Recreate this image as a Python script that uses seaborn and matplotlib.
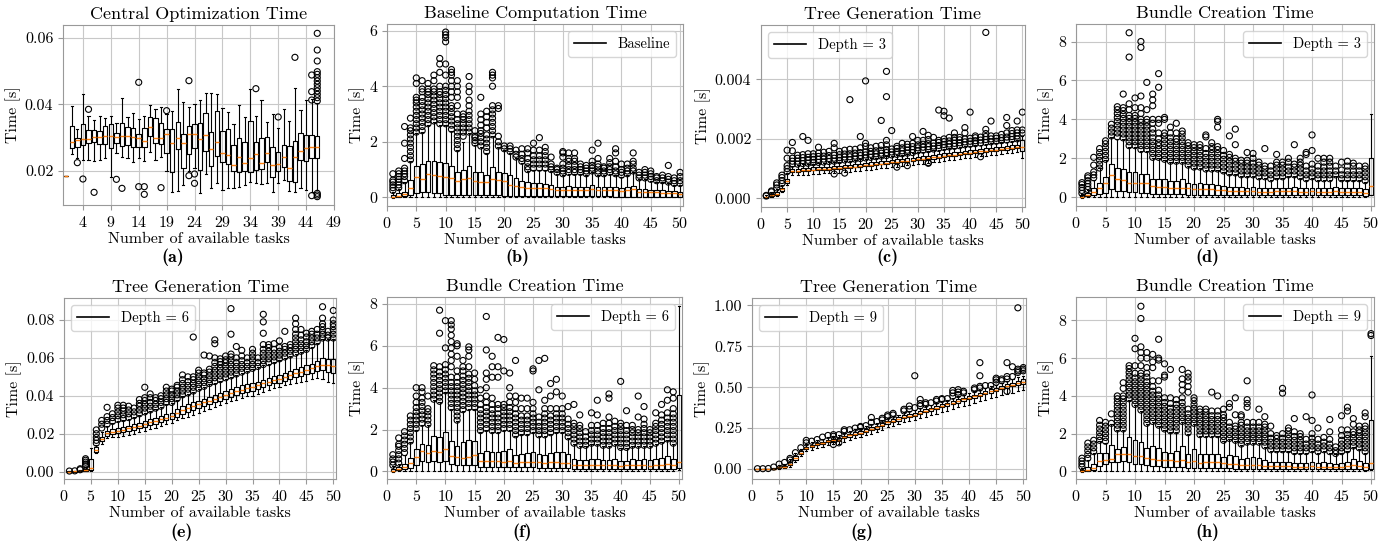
import matplotlib
matplotlib.use("Agg")
import matplotlib.pyplot as plt
from matplotlib.lines import Line2D
from matplotlib.ticker import FormatStrFormatter
import numpy as np
import pandas as pd
import seaborn as sns

plt.rcParams.update({
    "font.family": "serif",
    "font.serif": ["cmr10"],
    "mathtext.fontset": "cm",
    "axes.unicode_minus": False,
    "axes.formatter.use_mathtext": True,
})

# ---------------------------------------------------------------------------
# Box summaries (one value per number of tasks).
# lo / hi are the whisker ends, fliers are the drawn outlier circles.
# ---------------------------------------------------------------------------

# (a) central optimization time [s], tasks 1..46
a_q1 = [0.0186, 0.0268, 0.0271, 0.0277, 0.0285, 0.0286, 0.0280, 0.0281, 0.0270, 0.0285,
        0.0276, 0.0277, 0.0273, 0.0273, 0.0273, 0.0305, 0.0283, 0.0281, 0.0255, 0.0197,
        0.0265, 0.0210, 0.0250, 0.0268, 0.0203, 0.0260, 0.0216, 0.0245, 0.0226, 0.0221,
        0.0200, 0.0198, 0.0200, 0.0198, 0.0203, 0.0205, 0.0228, 0.0181, 0.0201, 0.0211,
        0.0170, 0.0168, 0.0233, 0.0231, 0.0238, 0.0238]
a_med = [0.0186, 0.0288, 0.0293, 0.0295, 0.0296, 0.0301, 0.0303, 0.0304, 0.0305, 0.0301,
         0.0306, 0.0306, 0.0303, 0.0298, 0.0290, 0.0333, 0.0298, 0.0298, 0.0310, 0.0285,
         0.0298, 0.0285, 0.0311, 0.0310, 0.0296, 0.0308, 0.0265, 0.0288, 0.0253, 0.0248,
         0.0217, 0.0241, 0.0223, 0.0238, 0.0250, 0.0223, 0.0253, 0.0217, 0.0221, 0.0241,
         0.0210, 0.0241, 0.0260, 0.0268, 0.0271, 0.0271]
a_q3 = [0.0186, 0.0335, 0.0298, 0.0341, 0.0323, 0.0323, 0.0321, 0.0335, 0.0341, 0.0313,
        0.0343, 0.0333, 0.0328, 0.0311, 0.0330, 0.0363, 0.0358, 0.0345, 0.0325, 0.0326,
        0.0348, 0.0311, 0.0336, 0.0340, 0.0345, 0.0375, 0.0316, 0.0380, 0.0321, 0.0325,
        0.0278, 0.0298, 0.0286, 0.0350, 0.0288, 0.0298, 0.0303, 0.0273, 0.0258, 0.0278,
        0.0275, 0.0291, 0.0313, 0.0308, 0.0308, 0.0305]
a_lo = [0.0186, 0.0250, 0.0240, 0.0233, 0.0233, 0.0231, 0.0233, 0.0238, 0.0183, 0.0253,
        0.0243, 0.0239, 0.0228, 0.0238, 0.0230, 0.0258, 0.0232, 0.0243, 0.0200, 0.0138,
        0.0141, 0.0158, 0.0200, 0.0210, 0.0135, 0.0191, 0.0148, 0.0163, 0.0143, 0.0148,
        0.0148, 0.0153, 0.0158, 0.0166, 0.0163, 0.0160, 0.0163, 0.0136, 0.0163, 0.0173,
        0.0140, 0.0138, 0.0150, 0.0143, 0.0138, 0.0143]
a_hi = [0.0186, 0.0395, 0.0325, 0.0430, 0.0365, 0.0353, 0.0366, 0.0360, 0.0365, 0.0345,
        0.0420, 0.0363, 0.0375, 0.0355, 0.0365, 0.0398, 0.0385, 0.0393, 0.0370, 0.0380,
        0.0445, 0.0408, 0.0393, 0.0400, 0.0413, 0.0433, 0.0433, 0.0431, 0.0390, 0.0376,
        0.0341, 0.0398, 0.0363, 0.0446, 0.0366, 0.0412, 0.0348, 0.0371, 0.0330, 0.0385,
        0.0350, 0.0450, 0.0383, 0.0413, 0.0415, 0.0403]
a_fliers = [[], [], [0.0225], [0.0176], [0.0385], [0.0136], [], [], [], [0.0175],
            [0.0148], [], [], [0.0466, 0.0153], [0.0153, 0.0130], [], [], [0.0150], [0.0381], [],
            [], [], [0.0471, 0.0186], [0.0191, 0.0163], [], [], [], [], [], [],
            [], [], [], [], [0.0447], [], [], [], [0.0362], [],
            [], [0.0541], [], [], [0.0488, 0.0438, 0.0413, 0.0126],
            [0.0613, 0.0563, 0.0530, 0.0498, 0.0490, 0.0480, 0.0470, 0.0460, 0.0450, 0.0440,
             0.0430, 0.0420, 0.0410, 0.0133, 0.0128, 0.0123]]

# (b) baseline computation time [s], tasks 1..50
b_q1 = [0.00, 0.00, 0.06, 0.08, 0.14, 0.20, 0.20, 0.17, 0.14, 0.10,
        0.10, 0.08, 0.10, 0.10, 0.10, 0.08, 0.08, 0.08, 0.08, 0.06,
        0.06, 0.06, 0.05, 0.05, 0.05, 0.05, 0.05, 0.05, 0.04, 0.04,
        0.04, 0.04, 0.04, 0.04, 0.04, 0.04, 0.04, 0.04, 0.03, 0.03,
        0.03, 0.03, 0.03, 0.03, 0.03, 0.03, 0.03, 0.02, 0.02, 0.02]
b_med = [0.01, 0.05, 0.12, 0.32, 0.72, 0.66, 0.84, 0.82, 0.78, 0.72,
         0.70, 0.60, 0.65, 0.70, 0.60, 0.55, 0.55, 0.65, 0.62, 0.60,
         0.45, 0.42, 0.38, 0.35, 0.32, 0.33, 0.35, 0.30, 0.27, 0.27,
         0.28, 0.28, 0.26, 0.26, 0.29, 0.27, 0.25, 0.27, 0.25, 0.22,
         0.27, 0.30, 0.18, 0.20, 0.20, 0.18, 0.17, 0.15, 0.14, 0.13]
b_q3 = [0.08, 0.15, 0.20, 0.62, 1.14, 1.19, 1.32, 1.32, 1.26, 1.22,
        1.13, 0.90, 0.98, 1.14, 0.92, 0.90, 0.80, 1.08, 0.92, 0.86,
        0.80, 0.68, 0.60, 0.54, 0.53, 0.50, 0.47, 0.43, 0.38, 0.38,
        0.40, 0.38, 0.38, 0.36, 0.43, 0.38, 0.36, 0.38, 0.38, 0.35,
        0.38, 0.42, 0.30, 0.30, 0.28, 0.26, 0.26, 0.24, 0.22, 0.20]
b_lo = [-0.02, 0.00, 0.00, 0.00, 0.01, 0.01, 0.01, 0.01, 0.01, 0.01,
        0.01, 0.01, 0.01, 0.01, 0.01, 0.01, 0.01, 0.01, 0.01, 0.01,
        0.01, 0.01, 0.01, 0.01, 0.01, 0.01, 0.01, 0.01, 0.01, 0.01,
        0.01, 0.01, 0.01, 0.01, 0.01, 0.01, 0.01, 0.01, 0.01, 0.01,
        0.01, 0.01, 0.01, 0.01, 0.01, 0.01, 0.01, 0.01, 0.01, 0.01]
b_hi = [0.20, 0.30, 0.55, 1.30, 2.30, 2.35, 2.60, 2.70, 2.60, 2.60,
        2.40, 1.70, 2.00, 2.30, 1.90, 1.80, 1.60, 2.20, 1.80, 1.70,
        1.60, 1.40, 1.25, 0.95, 1.00, 1.00, 1.00, 0.95, 0.85, 0.80,
        0.85, 0.85, 0.85, 0.80, 0.90, 0.80, 0.80, 0.85, 0.80, 0.75,
        0.80, 0.90, 0.65, 0.65, 0.60, 0.55, 0.55, 0.50, 0.45, 0.45]
b_fliers = [
    [0.25, 0.35, 0.45, 0.55, 0.62, 0.85],
    [0.35, 0.45, 0.55, 0.65, 0.75, 0.85, 0.95],
    [0.6, 0.75, 0.85, 0.95, 1.05, 1.4, 1.95, 2.55],
    [1.35, 1.5, 1.65, 1.8, 1.95, 2.1, 2.25, 2.4, 2.5, 2.85],
    [2.35, 2.5, 2.65, 2.8, 2.95, 3.1, 3.25, 3.4, 3.5, 3.6, 4.1, 4.3],
    [2.4, 2.55, 2.7, 2.85, 3.0, 3.15, 3.3, 3.45, 3.6, 3.8, 3.9, 4.2],
    [2.65, 2.8, 2.95, 3.1, 3.25, 3.4, 3.55, 3.7, 3.8, 3.9, 4.1],
    [2.75, 2.9, 3.05, 3.2, 3.35, 3.5, 3.65, 3.8, 3.9, 4.2, 4.4],
    [2.65, 2.8, 2.95, 3.1, 3.25, 3.4, 3.55, 3.7, 3.8, 4.0, 4.5, 4.8, 5.0],
    [2.65, 2.8, 2.95, 3.1, 3.25, 3.4, 3.55, 3.7, 3.85, 4.0, 4.4, 4.8, 5.6, 5.75, 5.85, 5.95],
    [2.45, 2.6, 2.75, 2.9, 3.05, 3.2, 3.3, 3.6, 3.8, 4.0, 4.2, 4.4, 4.5, 4.6],
    [1.75, 1.9, 2.05, 2.2, 2.35, 2.5, 2.65, 2.8, 3.0, 3.3, 3.6, 3.8, 4.0, 4.2],
    [2.2, 2.35, 2.5, 2.65, 2.8, 2.9, 3.0],
    [2.35, 2.5, 2.65, 2.8, 2.95, 3.1, 3.3, 3.5, 3.8, 4.0, 4.35],
    [1.95, 2.05, 2.15, 2.2, 2.4],
    [1.85, 2.0, 2.15, 2.3, 2.4, 2.6, 2.8, 3.0, 3.6],
    [1.65, 1.8, 1.95, 2.1, 2.25, 2.5, 2.7, 2.9, 3.1],
    [2.25, 2.4, 2.55, 2.7, 2.85, 3.0, 3.15, 3.3, 4.0, 4.3, 4.4, 4.5],
    [1.85, 2.0, 2.2, 3.2, 3.3],
    [1.75, 1.85],
    [1.65, 1.75, 1.85],
    [1.45, 1.55, 1.7],
    [1.3, 1.4, 1.55, 1.75],
    [1.0, 1.1, 1.25, 1.4, 1.6, 1.75],
    [1.05, 1.2, 1.35, 1.5, 1.7, 1.95],
    [1.05, 1.2, 1.35, 1.5, 1.7, 2.15],
    [1.05, 1.2, 1.35, 1.5, 1.65, 1.8],
    [1.0, 1.1, 1.2, 1.45],
    [0.9, 1.0, 1.05],
    [0.85, 0.95, 1.05, 1.2, 1.45, 1.6, 1.65],
    [0.9, 1.0, 1.15, 1.3, 1.4, 1.6],
    [0.9, 1.0, 1.15, 1.3, 1.4, 1.6],
    [0.9, 1.0, 1.1, 1.2],
    [0.85, 0.95, 1.05, 1.15],
    [0.95, 1.05, 1.15, 1.3, 1.7],
    [0.85, 0.95, 1.1, 1.2, 1.4, 1.95],
    [0.85, 0.95, 1.05, 1.1],
    [0.9, 1.0, 1.1, 1.25, 1.4],
    [0.85, 0.95, 1.1, 1.3, 1.6, 1.75],
    [0.8, 0.9, 1.0, 1.2],
    [0.85, 0.95, 1.05, 1.2],
    [0.95, 1.05, 1.2, 1.3, 1.6],
    [0.7, 0.8, 0.9],
    [0.7, 0.8, 0.9, 1.0],
    [0.65, 0.75, 0.85, 0.95],
    [0.6, 0.7, 0.75],
    [0.6, 0.7, 0.8],
    [0.55, 0.65, 0.75, 1.15],
    [0.5, 0.6, 0.7],
    [0.5, 0.6, 0.75, 0.9],
]

# (c) tree generation time, depth 3 [ms], tasks 1..50
c_q1 = [0.01, 0.08, 0.11, 0.26, 0.52, 0.89, 0.90, 0.91, 0.92, 0.94,
        0.95, 0.96, 0.97, 0.98, 0.99, 1.01, 1.02, 1.04, 1.06, 1.08,
        1.10, 1.12, 1.14, 1.16, 1.18, 1.20, 1.22, 1.24, 1.26, 1.28,
        1.30, 1.32, 1.34, 1.36, 1.39, 1.41, 1.43, 1.45, 1.48, 1.50,
        1.52, 1.54, 1.56, 1.58, 1.60, 1.62, 1.64, 1.66, 1.68, 1.60]
c_med = [0.03, 0.10, 0.15, 0.30, 0.57, 0.92, 0.93, 0.94, 0.95, 0.97,
         0.98, 0.99, 1.00, 1.01, 1.02, 1.04, 1.05, 1.07, 1.09, 1.11,
         1.13, 1.15, 1.17, 1.19, 1.21, 1.23, 1.25, 1.27, 1.29, 1.32,
         1.34, 1.36, 1.38, 1.40, 1.43, 1.45, 1.47, 1.49, 1.52, 1.54,
         1.56, 1.58, 1.60, 1.62, 1.64, 1.66, 1.68, 1.70, 1.72, 1.74]
c_q3 = [0.06, 0.15, 0.20, 0.36, 0.65, 0.99, 1.00, 1.01, 1.02, 1.04,
        1.05, 1.06, 1.07, 1.09, 1.10, 1.12, 1.13, 1.15, 1.17, 1.19,
        1.21, 1.23, 1.25, 1.27, 1.29, 1.31, 1.33, 1.35, 1.37, 1.40,
        1.42, 1.44, 1.46, 1.48, 1.51, 1.53, 1.55, 1.57, 1.60, 1.62,
        1.64, 1.66, 1.68, 1.70, 1.72, 1.74, 1.76, 1.78, 1.81, 1.95]
c_lo = [0.00, 0.05, 0.07, 0.20, 0.45, 0.80, 0.78, 0.79, 0.80, 0.82,
        0.83, 0.84, 0.85, 0.86, 0.87, 0.89, 0.90, 0.92, 0.93, 0.95,
        0.97, 0.99, 1.01, 1.03, 1.05, 1.07, 1.09, 1.11, 1.13, 1.15,
        1.17, 1.19, 1.21, 1.23, 1.26, 1.28, 1.30, 1.32, 1.35, 1.37,
        1.39, 1.41, 1.43, 1.45, 1.47, 1.49, 1.51, 1.53, 1.55, 1.37]
c_hi = [0.10, 0.20, 0.30, 0.45, 0.85, 1.10, 1.12, 1.14, 1.15, 1.17,
        1.18, 1.19, 1.21, 1.22, 1.24, 1.26, 1.27, 1.29, 1.31, 1.33,
        1.35, 1.37, 1.39, 1.41, 1.43, 1.45, 1.47, 1.49, 1.51, 1.55,
        1.57, 1.59, 1.61, 1.63, 1.66, 1.68, 1.70, 1.72, 1.75, 1.77,
        1.79, 1.81, 1.83, 1.85, 1.87, 1.89, 1.91, 1.93, 1.96, 2.10]
c_fliers = [
    [0.08, 0.10], [0.22, 0.25], [0.35, 0.45, 0.52], [0.50, 0.60, 0.70, 0.78],
    [0.90, 1.00, 1.10, 1.35, 1.62], [1.15, 1.25, 1.35, 1.60, 1.88],
    [1.15, 1.25, 1.35, 1.45], [1.17, 1.27, 1.37, 1.47, 2.08],
    [1.18, 1.28, 1.38, 1.50, 1.95], [1.20, 1.30, 1.40, 1.50],
    [1.21, 1.31, 1.41, 1.52, 1.72], [1.22, 1.32, 1.42, 1.55],
    [1.24, 1.34, 1.44, 1.58], [1.25, 1.35, 1.45, 1.70, 1.85, 0.82],
    [1.27, 1.37, 1.47, 1.58], [1.29, 1.39, 1.49, 1.62, 0.85],
    [1.30, 1.40, 1.50, 1.65, 3.32], [1.32, 1.42, 1.52, 1.65],
    [1.34, 1.44, 1.54, 1.70, 2.08], [1.36, 1.46, 1.56, 1.75, 1.85, 3.95],
    [1.38, 1.48, 1.58, 1.70], [1.40, 1.50, 1.60, 1.75],
    [1.42, 1.52, 1.62, 1.78, 2.62], [1.44, 1.54, 1.64, 1.80, 1.95, 3.42, 4.27],
    [1.46, 1.56, 1.66, 2.28], [1.48, 1.58, 1.68, 1.75, 1.05],
    [1.50, 1.60, 1.70, 1.85], [1.52, 1.62, 1.72, 1.82, 1.10],
    [1.54, 1.64, 1.74, 1.85, 2.08], [1.60, 1.70, 1.80, 1.95],
    [1.62, 1.72, 1.82, 1.95, 2.25], [1.64, 1.74, 1.84, 1.98, 2.12, 1.18, 1.20],
    [1.66, 1.76, 1.86, 2.05], [1.68, 1.78, 1.88, 1.95, 2.97],
    [1.71, 1.81, 1.91, 2.00, 2.78, 2.93], [1.73, 1.83, 1.93, 2.05, 2.70],
    [1.75, 1.85, 1.95, 2.05, 2.20], [1.77, 1.87, 1.97, 2.05],
    [1.80, 1.90, 2.00, 2.20, 2.38], [1.82, 1.92, 2.02, 2.90],
    [1.84, 1.94, 2.04, 2.10], [1.86, 1.96, 2.06, 1.40],
    [1.88, 1.98, 2.08, 2.18, 2.32, 5.58], [1.90, 2.00, 2.10, 2.60],
    [1.92, 2.02, 2.10], [1.94, 2.04, 2.15],
    [1.96, 2.06, 2.20, 2.45, 2.72], [1.98, 2.08, 2.18, 2.28],
    [2.00, 2.10, 2.20, 2.30, 2.60], [2.20, 2.30, 2.90],
]

# (d) bundle creation time, depth 3 [s]
d_q1 = [0.00, 0.05, 0.10, 0.15, 0.20, 0.40, 0.30, 0.30, 0.25, 0.25,
        0.20, 0.20, 0.15, 0.15, 0.15, 0.15, 0.15, 0.15, 0.10, 0.10,
        0.10, 0.10, 0.10, 0.10, 0.10, 0.10, 0.10, 0.10, 0.10, 0.10,
        0.10, 0.10, 0.10, 0.10, 0.10, 0.10, 0.10, 0.10, 0.10, 0.10,
        0.10, 0.10, 0.10, 0.10, 0.10, 0.10, 0.10, 0.10, 0.08, 0.12]
d_med = [0.00, 0.10, 0.25, 0.45, 0.72, 1.15, 0.92, 0.90, 0.75, 0.75,
         0.72, 0.75, 0.60, 0.55, 0.55, 0.50, 0.50, 0.50, 0.45, 0.40,
         0.40, 0.40, 0.40, 0.38, 0.35, 0.30, 0.32, 0.30, 0.30, 0.32,
         0.25, 0.25, 0.28, 0.30, 0.30, 0.30, 0.32, 0.28, 0.25, 0.30,
         0.25, 0.25, 0.25, 0.30, 0.25, 0.28, 0.28, 0.25, 0.22, 0.60]
d_q3 = [0.10, 0.20, 0.45, 0.72, 1.03, 1.70, 1.50, 1.47, 1.30, 1.30,
        1.20, 1.20, 0.95, 0.95, 0.92, 0.85, 0.85, 0.92, 0.75, 0.70,
        0.72, 0.68, 0.68, 0.65, 0.60, 0.55, 0.55, 0.52, 0.50, 0.52,
        0.45, 0.45, 0.45, 0.50, 0.50, 0.50, 0.55, 0.50, 0.45, 0.50,
        0.45, 0.45, 0.45, 0.55, 0.45, 0.45, 0.45, 0.45, 0.40, 2.00]
d_lo = [-0.03, 0.00, 0.00, 0.00, 0.00, 0.00, 0.00, 0.00, 0.00, 0.00,
        0.02, 0.02, 0.02, 0.02, 0.02, 0.02, 0.02, 0.02, 0.02, 0.02,
        0.02, 0.02, 0.02, 0.02, 0.02, 0.02, 0.02, 0.02, 0.02, 0.02,
        0.03, 0.03, 0.03, 0.03, 0.03, 0.03, 0.03, 0.03, 0.03, 0.03,
        0.03, 0.03, 0.03, 0.03, 0.03, 0.03, 0.03, 0.03, 0.03, 0.10]
d_hi = [0.15, 0.35, 0.90, 1.50, 1.90, 3.10, 3.00, 3.00, 2.60, 2.60,
        2.40, 2.40, 2.00, 2.00, 1.90, 1.80, 1.80, 1.80, 1.60, 1.50,
        1.50, 1.40, 1.40, 1.40, 1.30, 1.20, 1.20, 1.10, 1.10, 1.10,
        1.00, 1.00, 0.90, 1.00, 1.00, 1.10, 1.10, 1.00, 0.90, 1.00,
        0.90, 0.90, 0.90, 1.10, 0.90, 0.90, 0.90, 0.90, 0.80, 4.30]
d_fliers = [
    [0.2, 0.35, 0.5, 0.65, 0.75],
    [0.4, 0.55, 0.7, 0.85, 1.0, 1.1],
    [1.0, 1.15, 1.3, 1.65, 2.05],
    [1.5, 1.7, 1.9, 2.1, 2.3, 2.5],
    [1.95, 2.15, 2.35, 2.55, 2.75, 2.9],
    [3.15, 3.35, 3.55, 3.75],
    [3.1, 3.3, 3.5, 3.7, 3.9, 4.1, 4.3, 4.5, 4.65],
    [3.05, 3.25, 3.45, 3.65, 3.85, 4.05, 4.25, 4.45, 4.6, 5.3],
    [2.65, 2.85, 3.05, 3.25, 3.45, 3.65, 3.85, 4.05, 4.2, 4.5, 4.8, 7.2, 8.45],
    [2.65, 2.85, 3.05, 3.25, 3.45, 3.65, 3.85, 4.05, 4.2, 4.6, 5.1],
    [2.45, 2.65, 2.85, 3.05, 3.25, 3.45, 3.65, 3.85, 4.0, 4.3, 4.6, 5.2, 7.7, 8.0],
    [2.45, 2.65, 2.85, 3.05, 3.25, 3.45, 3.65, 3.85, 4.0, 4.5, 5.9],
    [2.05, 2.25, 2.45, 2.65, 2.85, 3.05, 3.3, 3.5, 3.8, 4.0, 4.7, 5.0, 5.3],
    [2.05, 2.25, 2.45, 2.65, 2.8, 3.0, 3.3, 3.8, 4.0, 5.65, 6.35],
    [1.95, 2.15, 2.35, 2.55, 2.75, 2.95, 3.15, 3.3, 4.0, 4.1],
    [1.85, 2.05, 2.25, 2.45, 2.65, 2.85, 3.05, 3.3, 3.6],
    [1.85, 2.05, 2.25, 2.45, 2.65, 2.85, 3.0, 3.3, 3.8],
    [1.85, 2.05, 2.25, 2.45, 2.65, 2.85, 3.05, 3.25, 3.4],
    [1.65, 1.85, 2.05, 2.25, 2.45, 2.65, 2.8],
    [1.55, 1.75, 1.95, 2.15, 2.35, 2.55, 2.7],
    [1.55, 1.75, 1.95, 2.15, 2.35, 2.55, 2.7],
    [1.45, 1.65, 1.85, 2.05, 2.25, 2.5, 3.1, 3.2],
    [1.45, 1.65, 1.85, 2.05, 2.25, 2.45, 2.6, 2.8],
    [1.45, 1.65, 1.85, 2.05, 2.25, 2.45, 2.6, 3.6, 3.9, 4.0],
    [1.35, 1.55, 1.75, 1.95, 2.15, 2.4],
    [1.25, 1.45, 1.65, 1.85, 2.05, 2.2, 3.15],
    [1.25, 1.45, 1.65, 1.85, 2.0, 2.7, 3.5],
    [1.15, 1.35, 1.55, 1.75, 1.9],
    [1.15, 1.35, 1.55, 1.75, 1.9, 2.3],
    [1.15, 1.35, 1.55, 1.75, 2.0, 2.25],
    [1.05, 1.25, 1.45, 1.65, 1.8],
    [1.05, 1.25, 1.45, 1.6, 2.5],
    [0.95, 1.15, 1.35, 1.6],
    [1.05, 1.25, 1.45, 1.65, 1.8, 2.2],
    [1.05, 1.25, 1.45, 1.65, 1.8],
    [1.15, 1.35, 1.55, 1.8, 2.0],
    [1.15, 1.35, 1.55, 1.7, 2.7],
    [1.05, 1.25, 1.45, 1.65, 1.8, 2.0],
    [0.95, 1.15, 1.35, 1.6, 2.2, 2.3],
    [1.05, 1.25, 1.45, 1.7, 2.4, 3.2],
    [0.95, 1.15, 1.35, 1.6, 2.0],
    [0.95, 1.15, 1.35, 1.55, 1.8, 2.0],
    [0.95, 1.15, 1.35, 1.6, 1.8, 2.0],
    [1.15, 1.35, 1.6],
    [0.95, 1.15, 1.4, 1.8],
    [0.95, 1.15, 1.35, 1.6, 1.85],
    [0.95, 1.15, 1.35, 1.6, 1.75],
    [0.95, 1.15, 1.35, 1.6],
    [0.85, 1.05, 1.25, 1.45, 1.6],
    [],
]

# (e) tree generation time, depth 6 [ms]
e_q1 = [0.03, 0.05, 0.2, 0.3, 0.9, 10.5, 16.2, 19.0, 19.8, 20.3,
        20.7, 21.5, 22.0, 22.8, 23.5, 24.5, 25.0, 26.0, 27.0, 27.5,
        29.0, 30.5, 31.5, 32.5, 33.5, 34.5, 35.5, 36.5, 37.5, 38.5,
        39.5, 40.5, 41.3, 42.0, 42.5, 43.5, 44.5, 45.5, 46.5, 47.0,
        48.0, 49.0, 50.0, 50.5, 51.5, 52.0, 53.0, 53.5, 52.5, 52.0]
e_med = [0.05, 0.1, 0.3, 0.6, 2.0, 11.4, 17.0, 20.2, 21.0, 21.5,
         22.0, 22.8, 23.5, 24.2, 25.0, 26.0, 26.8, 27.5, 28.5, 29.2,
         31.0, 32.5, 33.5, 34.5, 35.5, 36.5, 37.5, 38.5, 39.5, 40.5,
         41.5, 42.5, 43.3, 44.0, 44.5, 45.5, 46.5, 47.5, 48.5, 49.0,
         50.0, 51.0, 52.0, 52.5, 53.5, 54.5, 55.5, 56.0, 56.0, 55.5]
e_q3 = [0.08, 0.15, 0.5, 1.2, 6.5, 13.2, 18.5, 21.5, 22.5, 23.0,
        23.5, 24.2, 25.0, 25.8, 26.5, 27.5, 28.5, 29.2, 30.5, 31.0,
        33.0, 34.5, 35.5, 36.5, 37.5, 38.5, 39.5, 40.5, 41.5, 42.5,
        43.5, 44.5, 45.5, 46.0, 46.5, 47.5, 48.5, 49.5, 50.5, 51.0,
        52.0, 53.0, 54.0, 55.0, 56.0, 57.0, 58.5, 60.0, 59.5, 59.5]
e_lo = [0.02, 0.03, 0.1, 0.2, 0.5, 10.0, 14.5, 17.5, 18.0, 18.5,
        19.0, 19.5, 20.0, 21.0, 21.5, 22.5, 23.0, 24.0, 25.0, 25.5,
        27.0, 28.5, 29.0, 30.0, 31.0, 32.0, 33.0, 34.0, 35.0, 36.0,
        37.0, 38.0, 39.0, 40.0, 40.0, 41.0, 42.0, 43.0, 44.0, 44.5,
        45.5, 46.0, 47.0, 47.5, 48.0, 49.0, 49.5, 49.0, 47.5, 46.5]
e_hi = [0.1, 0.2, 0.9, 2.5, 12.5, 14.0, 21.0, 24.0, 25.5, 26.5,
        27.0, 28.0, 29.0, 30.0, 31.0, 32.0, 33.0, 34.0, 35.5, 36.0,
        38.0, 40.0, 41.0, 42.0, 43.5, 44.5, 46.0, 47.0, 48.0, 49.0,
        50.0, 51.0, 52.0, 53.0, 54.0, 55.0, 56.0, 57.0, 58.0, 59.0,
        60.0, 61.0, 62.0, 63.0, 64.0, 66.0, 68.0, 70.0, 70.0, 70.0]
e_fliers = [
    [0.3], [0.4], [1.0, 1.5], [3.0, 4.0, 5.0, 6.0, 6.8], [],
    [15.0, 16.5, 18.0, 20.0, 22.0],
    [23.0, 25.0, 27.0],
    [25.0, 27.0, 29.0, 33.9],
    [26.5, 28.5, 30.5],
    [27.5, 29.5, 31.5, 33.5, 35.0],
    [28.0, 30.0, 32.0, 33.5, 35.0],
    [28.5, 30.5, 32.5, 34.5],
    [29.5, 31.5, 33.5],
    [30.5, 32.5, 34.5, 36.0, 38.0],
    [31.5, 33.5, 35.5, 37.5, 39.0, 44.5],
    [32.5, 34.5, 36.5, 39.0, 41.0],
    [33.5, 35.5, 37.5, 39.0],
    [34.5, 36.5, 38.5, 40.0],
    [36.5, 38.5, 40.5, 42.5, 44.5],
    [36.5, 38.5, 40.5, 42.5, 43.5],
    [38.5, 40.5, 42.5, 44.5, 45.5],
    [40.5, 42.5, 44.5, 46.5, 48.5, 51.0],
    [41.5, 43.5, 45.5, 47.5, 50.0],
    [42.5, 44.5, 46.5, 48.5, 50.0, 71.0],
    [44.0, 46.0, 48.0, 50.0, 52.0, 53.5],
    [45.0, 47.0, 49.0, 51.0, 52.0, 61.5],
    [46.5, 48.5, 50.5, 52.5, 54.0, 61.0],
    [47.5, 49.5, 51.5, 53.5, 55.5, 57.5, 60.0, 67.5, 69.5],
    [48.5, 50.5, 52.5, 54.5, 56.5, 58.0, 59.5],
    [49.5, 51.5, 53.5, 55.5, 57.5, 59.0, 61.0],
    [50.5, 52.5, 54.5, 56.5, 58.5, 60.5, 62.0, 72.5, 86.0],
    [51.5, 53.5, 55.5, 57.5, 60.0, 66.0],
    [52.5, 54.5, 56.5, 58.5, 61.0, 64.0],
    [53.5, 55.5, 57.5, 60.0],
    [54.5, 56.5, 58.5, 60.5, 62.5, 64.5],
    [55.5, 57.5, 60.0],
    [56.5, 58.5, 60.5, 62.5, 64.5, 67.0, 73.0, 79.0, 83.0],
    [57.5, 59.5, 61.5, 63.5, 65.5, 67.0],
    [58.5, 60.5, 62.5, 64.5, 67.5],
    [59.5, 61.5, 63.5, 65.5, 69.0],
    [60.5, 62.5, 64.5, 66.0, 74.0],
    [61.5, 63.5, 65.5, 67.0],
    [62.5, 64.5, 66.5, 68.5, 70.5, 72.5, 75.0, 78.0, 81.0],
    [63.5, 65.5, 67.5, 69.5, 72.0, 75.0],
    [64.5, 66.5, 68.5, 71.0, 73.0],
    [66.5, 68.5, 70.5, 72.5, 74.0],
    [68.5, 70.5, 72.5, 75.0],
    [70.5, 72.5, 74.5, 76.5, 78.0, 81.0, 87.0],
    [70.5, 72.0, 74.0],
    [70.5, 72.5, 74.5, 76.5, 78.0, 80.0, 85.0],
]

# (f) bundle creation time, depth 6 [s]
f_q1 = [0.00, 0.05, 0.10, 0.15, 0.30, 0.50, 0.45, 0.50, 0.45, 0.50,
        0.35, 0.30, 0.30, 0.30, 0.30, 0.20, 0.20, 0.20, 0.20, 0.20,
        0.20, 0.20, 0.20, 0.20, 0.20, 0.15, 0.15, 0.15, 0.15, 0.15,
        0.15, 0.12, 0.12, 0.12, 0.12, 0.12, 0.12, 0.12, 0.12, 0.10,
        0.10, 0.10, 0.10, 0.10, 0.10, 0.10, 0.10, 0.12, 0.10, 0.15]
f_med = [0.00, 0.10, 0.20, 0.40, 0.70, 1.00, 0.90, 1.00, 0.95, 1.05,
         0.75, 0.70, 0.62, 0.70, 0.80, 0.50, 0.52, 0.50, 0.50, 0.45,
         0.50, 0.42, 0.45, 0.45, 0.45, 0.45, 0.42, 0.45, 0.45, 0.40,
         0.40, 0.30, 0.30, 0.30, 0.30, 0.30, 0.30, 0.30, 0.30, 0.25,
         0.30, 0.30, 0.30, 0.30, 0.28, 0.30, 0.32, 0.35, 0.30, 0.45]
f_q3 = [0.10, 0.20, 0.35, 0.65, 1.05, 1.30, 1.25, 1.70, 1.65, 1.90,
        1.45, 1.20, 1.40, 1.50, 1.45, 0.90, 1.00, 0.95, 0.95, 1.00,
        1.05, 0.80, 0.85, 0.90, 0.95, 0.85, 0.80, 0.90, 0.95, 0.95,
        0.85, 0.60, 0.55, 0.55, 0.60, 0.60, 0.55, 0.55, 0.60, 0.50,
        0.50, 0.60, 0.55, 0.60, 0.55, 0.60, 0.65, 0.75, 0.60, 3.65]
f_lo = [-0.03, 0.00, 0.00, 0.00, 0.00, 0.00, 0.00, 0.00, 0.00, 0.00,
        0.02, 0.02, 0.02, 0.02, 0.02, 0.02, 0.02, 0.02, 0.02, 0.02,
        0.02, 0.02, 0.02, 0.02, 0.02, 0.02, 0.02, 0.02, 0.02, 0.02,
        0.03, 0.03, 0.03, 0.03, 0.03, 0.03, 0.03, 0.03, 0.03, 0.03,
        0.03, 0.03, 0.03, 0.03, 0.03, 0.03, 0.03, 0.03, 0.03, 0.05]
f_hi = [0.25, 0.35, 0.80, 1.40, 2.00, 2.20, 2.20, 3.40, 3.30, 3.80,
        3.00, 2.40, 2.90, 3.00, 3.00, 1.90, 2.00, 1.90, 1.90, 2.00,
        2.00, 1.70, 1.80, 1.80, 1.90, 1.70, 1.70, 1.80, 1.90, 1.90,
        1.60, 1.30, 1.20, 1.20, 1.30, 1.30, 1.20, 1.20, 1.30, 1.10,
        1.10, 1.20, 1.20, 1.20, 1.20, 1.30, 1.40, 1.50, 1.30, 7.90]
f_fliers = [
    [0.3, 0.45, 0.6, 0.8],
    [0.4, 0.6, 0.8, 1.0, 1.2, 1.3, 1.6],
    [0.9, 1.1, 1.3, 1.5, 1.7, 1.9],
    [1.45, 1.65, 1.85, 2.05, 2.25, 2.45, 2.65],
    [2.05, 2.25, 2.45, 2.65, 2.85, 3.05, 3.3, 3.6, 4.0],
    [2.3, 2.5, 2.7, 2.9, 3.1, 3.3, 3.5, 3.8, 4.0],
    [2.25, 2.45, 2.65, 2.85, 3.0, 3.6],
    [3.45, 3.65, 3.85, 4.05, 4.25, 4.45, 4.65, 4.85, 5.05],
    [3.35, 3.55, 3.75, 3.95, 4.15, 4.35, 4.55, 4.75, 5.0, 6.6, 7.7],
    [3.85, 4.05, 4.25, 4.45, 4.65, 4.85, 5.1, 5.9, 7.2],
    [3.05, 3.25, 3.45, 3.65, 3.85, 4.05, 4.25, 4.5, 5.0, 5.3, 5.6, 5.9, 6.2, 6.5, 6.8, 7.0, 7.2],
    [2.45, 2.65, 2.85, 3.05, 3.25, 3.45, 3.65, 3.85, 4.05, 4.25, 4.5, 4.8, 5.5, 6.0, 6.1],
    [2.95, 3.15, 3.35, 3.55, 3.75, 3.95, 4.15, 4.35, 4.55, 4.8, 5.0, 5.3],
    [3.05, 3.25, 3.45, 3.65, 3.85, 4.05, 4.25, 4.45, 4.65, 5.0, 5.5, 5.8, 5.95],
    [3.05, 3.25, 3.45, 3.65, 3.85, 4.1, 4.4, 4.7],
    [1.95, 2.15, 2.35, 2.55, 2.75, 2.95, 3.2, 3.5, 3.9],
    [2.05, 2.25, 2.45, 2.65, 2.85, 3.05, 3.3, 3.6, 4.0, 4.4, 4.7, 5.8, 7.4],
    [1.95, 2.15, 2.35, 2.55, 2.75, 2.95, 3.2, 3.5, 4.5, 5.0, 5.5],
    [1.95, 2.15, 2.35, 2.55, 2.75, 3.0, 3.2, 4.5, 5.0, 6.4],
    [2.05, 2.25, 2.45, 2.65, 2.85, 3.05, 3.2, 4.8, 6.3],
    [2.05, 2.25, 2.45, 2.65, 2.85, 3.05, 3.3, 3.6, 4.0, 4.7],
    [1.75, 1.95, 2.15, 2.35, 2.55, 2.75, 3.0, 3.3, 3.6, 5.3],
    [1.85, 2.05, 2.25, 2.45, 2.65, 3.0, 3.5],
    [1.85, 2.05, 2.25, 2.45, 2.65, 3.0, 3.5],
    [1.95, 2.15, 2.35, 2.55, 2.75, 3.0, 3.3, 4.8, 4.9],
    [1.75, 1.95, 2.15, 2.35, 2.6, 3.9, 5.3],
    [1.75, 1.95, 2.15, 2.35, 2.55, 2.75, 3.0, 3.4, 5.4],
    [1.85, 2.05, 2.25, 2.45, 2.65, 3.0, 3.6, 4.2],
    [1.95, 2.15, 2.35, 2.55, 2.75, 3.0, 3.8, 4.4],
    [1.95, 2.15, 2.35, 2.55, 2.75, 3.0, 3.6],
    [1.65, 1.85, 2.05, 2.25, 2.5, 3.1],
    [1.35, 1.55, 1.75, 1.95, 2.15, 2.3, 3.2],
    [1.25, 1.45, 1.65, 1.85, 2.05, 2.2, 2.7],
    [1.25, 1.45, 1.65, 1.9],
    [1.35, 1.55, 1.75, 1.95, 2.2, 2.8],
    [1.35, 1.55, 1.75, 1.95, 2.2, 2.7, 3.4],
    [1.25, 1.45, 1.65, 1.85, 2.05, 2.3],
    [1.25, 1.45, 1.65, 1.85, 2.05, 2.3, 2.6, 3.5, 3.7],
    [1.35, 1.55, 1.75, 1.95, 2.15, 2.4],
    [1.15, 1.35, 1.55, 1.75, 1.95, 2.15, 2.3, 4.3],
    [1.15, 1.35, 1.55, 1.75, 1.95, 2.2, 2.9],
    [1.25, 1.45, 1.65, 1.85, 2.0, 2.2],
    [1.25, 1.45, 1.65, 1.85, 2.0, 2.6, 3.6],
    [1.25, 1.45, 1.65, 1.85, 2.05, 2.25, 2.5, 3.1],
    [1.25, 1.45, 1.65, 1.85, 2.0],
    [1.35, 1.55, 1.75, 1.95, 2.15, 2.3, 2.8],
    [1.45, 1.65, 1.85, 2.05, 2.25, 2.45, 2.7, 3.2],
    [1.55, 1.75, 1.95, 2.15, 2.35, 2.55, 2.8, 3.4, 3.9],
    [1.35, 1.55, 1.75, 1.95, 2.15, 2.35, 2.55, 2.75, 3.0, 3.5, 3.8],
    [],
]

# (g) tree generation time, depth 9 [s]
g_q1 = [0.000, 0.000, 0.000, 0.002, 0.007, 0.011, 0.022, 0.058, 0.094, 0.122,
        0.134, 0.144, 0.153, 0.163, 0.168, 0.173, 0.187, 0.197, 0.207, 0.214,
        0.227, 0.237, 0.247, 0.261, 0.276, 0.286, 0.296, 0.309, 0.316, 0.323,
        0.336, 0.346, 0.356, 0.366, 0.376, 0.386, 0.396, 0.406, 0.416, 0.426,
        0.436, 0.446, 0.456, 0.466, 0.476, 0.486, 0.496, 0.505, 0.513, 0.518]
g_med = [0.000, 0.000, 0.000, 0.003, 0.010, 0.015, 0.030, 0.067, 0.100, 0.128,
         0.140, 0.150, 0.160, 0.170, 0.175, 0.180, 0.195, 0.205, 0.215, 0.222,
         0.235, 0.245, 0.255, 0.270, 0.285, 0.295, 0.305, 0.318, 0.325, 0.332,
         0.345, 0.355, 0.365, 0.375, 0.385, 0.395, 0.405, 0.415, 0.425, 0.435,
         0.445, 0.455, 0.465, 0.475, 0.485, 0.495, 0.505, 0.515, 0.525, 0.532]
g_q3 = [0.001, 0.001, 0.001, 0.005, 0.014, 0.021, 0.045, 0.078, 0.108, 0.136,
        0.148, 0.158, 0.168, 0.178, 0.184, 0.189, 0.204, 0.214, 0.224, 0.232,
        0.245, 0.255, 0.265, 0.280, 0.295, 0.305, 0.315, 0.328, 0.335, 0.342,
        0.355, 0.365, 0.375, 0.385, 0.395, 0.405, 0.415, 0.425, 0.435, 0.445,
        0.455, 0.466, 0.476, 0.486, 0.496, 0.507, 0.517, 0.528, 0.540, 0.550]
g_lo = [0.000, 0.000, 0.000, 0.000, 0.003, 0.005, 0.012, 0.045, 0.082, 0.108,
        0.118, 0.127, 0.136, 0.145, 0.150, 0.155, 0.168, 0.178, 0.187, 0.194,
        0.206, 0.216, 0.226, 0.240, 0.254, 0.263, 0.273, 0.285, 0.292, 0.298,
        0.310, 0.320, 0.329, 0.338, 0.348, 0.357, 0.366, 0.376, 0.385, 0.394,
        0.404, 0.413, 0.422, 0.431, 0.440, 0.450, 0.458, 0.466, 0.474, 0.480]
g_hi = [0.001, 0.001, 0.002, 0.008, 0.022, 0.032, 0.060, 0.095, 0.125, 0.155,
        0.165, 0.175, 0.186, 0.196, 0.203, 0.208, 0.222, 0.232, 0.243, 0.250,
        0.263, 0.273, 0.283, 0.298, 0.313, 0.323, 0.333, 0.346, 0.354, 0.361,
        0.374, 0.384, 0.394, 0.404, 0.414, 0.424, 0.434, 0.444, 0.454, 0.464,
        0.474, 0.485, 0.495, 0.505, 0.515, 0.526, 0.537, 0.548, 0.560, 0.570]
g_fliers = [
    [0.002], [0.002], [0.003], [0.012], [0.030], [0.040], [0.065, 0.055], [0.100],
    [0.130], [0.160, 0.175], [0.170], [0.180], [0.195], [0.205],
    [0.210, 0.200, 0.150], [0.210, 0.160], [0.230, 0.240], [0.240], [0.250],
    [0.260, 0.255], [0.265], [0.285, 0.315], [0.290], [0.300, 0.310],
    [0.320, 0.330], [0.330, 0.340], [], [0.355, 0.365], [0.365, 0.385],
    [0.375, 0.570], [0.385, 0.400, 0.425], [0.395, 0.405], [0.405],
    [0.415, 0.425], [0.425, 0.430], [0.430], [0.445, 0.465, 0.480],
    [0.455, 0.470, 0.485], [0.465, 0.475], [], [0.485, 0.495],
    [0.495, 0.505, 0.570, 0.650], [0.510], [0.510], [0.530, 0.545, 0.555],
    [0.540, 0.550], [0.550, 0.565, 0.650, 0.475], [0.565, 0.625],
    [0.590, 0.600, 0.610, 0.985], [0.600, 0.610, 0.620],
]

# (h) bundle creation time, depth 9 [s]
h_q1 = [0.00, 0.05, 0.10, 0.30, 0.40, 0.50, 0.50, 0.55, 0.50, 0.40,
        0.40, 0.35, 0.30, 0.30, 0.25, 0.25, 0.25, 0.25, 0.20, 0.20,
        0.20, 0.20, 0.20, 0.20, 0.20, 0.20, 0.15, 0.15, 0.15, 0.15,
        0.15, 0.12, 0.12, 0.12, 0.12, 0.12, 0.12, 0.12, 0.12, 0.12,
        0.12, 0.12, 0.12, 0.12, 0.12, 0.12, 0.12, 0.12, 0.10, 0.12]
h_med = [0.00, 0.10, 0.20, 0.55, 0.60, 0.65, 0.90, 0.90, 0.95, 0.80,
         0.80, 0.70, 0.65, 0.62, 0.60, 0.60, 0.55, 0.60, 0.50, 0.55,
         0.45, 0.50, 0.50, 0.50, 0.45, 0.42, 0.40, 0.35, 0.35, 0.35,
         0.35, 0.30, 0.30, 0.28, 0.30, 0.28, 0.25, 0.25, 0.25, 0.28,
         0.25, 0.25, 0.25, 0.25, 0.25, 0.28, 0.35, 0.30, 0.25, 0.45]
h_q3 = [0.10, 0.25, 0.40, 1.00, 1.00, 1.40, 1.20, 1.30, 1.85, 1.65,
        1.55, 1.25, 1.35, 1.25, 1.05, 1.00, 1.10, 1.35, 0.90, 1.20,
        0.90, 0.90, 0.95, 0.95, 0.75, 0.85, 0.80, 0.65, 0.70, 0.75,
        0.70, 0.60, 0.50, 0.50, 0.50, 0.50, 0.45, 0.45, 0.45, 0.50,
        0.45, 0.50, 0.45, 0.40, 0.45, 0.50, 0.65, 0.55, 0.45, 2.70]
h_lo = [-0.03, 0.00, 0.00, 0.00, 0.00, 0.00, 0.00, 0.00, 0.00, 0.00,
        0.02, 0.02, 0.02, 0.02, 0.02, 0.02, 0.02, 0.02, 0.02, 0.02,
        0.02, 0.02, 0.02, 0.02, 0.02, 0.02, 0.02, 0.02, 0.02, 0.02,
        0.03, 0.03, 0.03, 0.03, 0.03, 0.03, 0.03, 0.03, 0.03, 0.03,
        0.03, 0.03, 0.03, 0.03, 0.03, 0.03, 0.03, 0.03, 0.03, 0.10]
h_hi = [0.20, 0.60, 1.00, 1.60, 1.50, 2.50, 2.20, 2.20, 3.80, 3.50,
        3.20, 2.50, 2.60, 2.40, 2.20, 2.10, 2.10, 2.60, 2.00, 2.50,
        1.90, 1.90, 1.90, 1.90, 1.60, 1.70, 1.60, 1.40, 1.50, 1.50,
        1.50, 1.30, 1.10, 1.10, 1.10, 1.10, 1.00, 1.00, 1.00, 1.10,
        1.00, 1.10, 1.00, 0.90, 1.00, 1.10, 1.30, 1.20, 1.00, 6.10]
h_fliers = [
    [0.25, 0.4, 0.55, 0.7],
    [0.7, 0.9, 1.1, 1.3, 1.5],
    [1.05, 1.25, 1.45, 1.65],
    [1.65, 1.85, 2.05, 2.25, 2.45, 2.7],
    [1.6, 1.8, 2.0, 2.2, 2.4, 2.6],
    [2.55, 3.05],
    [2.25, 2.45, 2.65, 2.85, 3.05, 3.25, 3.45, 3.65, 3.85, 4.0],
    [2.25, 2.45, 2.65, 2.85, 3.05, 3.25, 3.45, 3.65, 3.85, 4.0, 4.4, 4.7],
    [3.85, 4.05, 4.25, 4.45, 4.65, 4.85, 5.05, 5.25, 5.45, 5.6],
    [3.55, 3.75, 3.95, 4.15, 4.35, 4.55, 4.75, 4.95, 5.2, 5.6, 6.5, 7.05],
    [3.25, 3.45, 3.65, 3.85, 4.05, 4.25, 4.45, 4.65, 4.85, 5.05, 5.2, 5.6, 6.0, 6.3, 6.6, 8.1, 8.75],
    [2.55, 2.75, 2.95, 3.15, 3.35, 3.55, 3.75, 3.95, 4.15, 4.35, 4.55, 4.75, 5.0, 5.2, 5.5, 6.0, 6.3],
    [2.65, 2.85, 3.05, 3.25, 3.45, 3.65, 3.85, 4.05, 4.25, 4.5, 4.8, 5.5, 5.8, 6.2],
    [2.45, 2.65, 2.85, 3.05, 3.25, 3.45, 3.65, 3.85, 4.05, 4.3, 4.8, 5.9, 6.0, 7.0],
    [2.25, 2.45, 2.65, 2.85, 3.05, 3.25, 3.45, 3.65, 3.9, 5.0, 5.1, 5.7],
    [2.15, 2.35, 2.55, 2.75, 2.95, 3.15, 3.35, 3.6, 3.9, 5.4],
    [2.15, 2.35, 2.55, 2.75, 2.95, 3.15, 3.35, 3.55, 3.8],
    [2.65, 2.85, 3.05, 3.25, 3.45, 3.65, 3.9, 4.3, 4.6, 4.9, 5.4],
    [2.05, 2.25, 2.45, 2.65, 2.85, 3.05, 3.3, 4.2, 4.5, 4.8, 5.0, 5.2],
    [2.55, 2.75, 2.95, 3.15, 3.35, 3.55, 3.75, 3.9],
    [1.95, 2.15, 2.35, 2.55, 2.75, 2.95, 3.15, 3.3],
    [1.95, 2.15, 2.35, 2.55, 2.75, 2.95, 3.15, 3.3],
    [1.95, 2.15, 2.35, 2.55, 2.75, 2.95, 3.2, 4.2],
    [1.95, 2.15, 2.35, 2.55, 2.75, 2.95, 3.2, 4.0],
    [1.65, 1.85, 2.05, 2.25, 2.45, 2.65, 2.85, 3.0, 3.3],
    [1.75, 1.95, 2.15, 2.35, 2.6, 3.4, 3.6],
    [1.65, 1.85, 2.05, 2.25, 2.4, 3.0, 3.9],
    [1.45, 1.65, 1.85, 2.05, 2.25, 2.45, 2.6, 2.9, 3.0],
    [1.55, 1.75, 1.95, 2.15, 2.35, 2.6, 3.4, 3.6, 3.8, 4.8],
    [1.55, 1.75, 1.95, 2.15, 2.35, 2.6],
    [1.55, 1.75, 1.95, 2.15, 2.35, 2.6, 3.3],
    [1.35, 1.55, 1.75, 1.95, 2.15, 2.35, 2.5, 2.9],
    [1.15, 1.35, 1.55, 1.75, 2.0, 2.4],
    [1.15, 1.35, 1.55, 1.75, 1.9],
    [1.15, 1.35, 1.55, 1.75, 2.0, 4.15, 4.4],
    [1.15, 1.35, 1.55, 1.75, 1.95, 2.15, 2.3],
    [1.05, 1.25, 1.45, 1.65, 1.85, 2.1, 2.8],
    [1.05, 1.25, 1.45, 1.65, 1.85, 2.0],
    [1.05, 1.25, 1.45, 1.7, 2.9],
    [1.15, 1.35, 1.55, 1.75, 2.0, 2.7, 4.05],
    [1.05, 1.25, 1.45, 1.7, 2.3],
    [1.15, 1.35, 1.55, 1.8],
    [1.05, 1.25, 1.45, 1.7, 2.1, 2.75],
    [0.95, 1.1, 1.3],
    [1.05, 1.25, 1.45, 1.65, 1.9, 2.2, 2.95],
    [1.15, 1.35, 1.55, 1.75, 1.95, 2.2, 3.2, 3.4],
    [1.35, 1.55, 1.75, 1.95, 2.1, 2.5, 2.8],
    [1.25, 1.45, 1.65, 1.85, 2.05, 2.2, 2.4],
    [1.05, 1.25, 1.45, 1.65, 1.85, 2.05, 2.25, 2.4, 2.9, 3.1],
    [7.2, 7.3],
]

titles = ["Central Optimization Time", "Baseline Computation Time", "Tree Generation Time",
          "Bundle Creation Time", "Tree Generation Time", "Bundle Creation Time",
          "Tree Generation Time", "Bundle Creation Time"]
legend_labels = [None, "Baseline", "Depth = 3", "Depth = 3", "Depth = 6", "Depth = 6",
                 "Depth = 9", "Depth = 9"]
letters = ["a", "b", "c", "d", "e", "f", "g", "h"]

series = [
    (a_q1, a_med, a_q3, a_lo, a_hi, a_fliers, 1.0),
    (b_q1, b_med, b_q3, b_lo, b_hi, b_fliers, 1.0),
    (c_q1, c_med, c_q3, c_lo, c_hi, c_fliers, 1e-3),
    (d_q1, d_med, d_q3, d_lo, d_hi, d_fliers, 1.0),
    (e_q1, e_med, e_q3, e_lo, e_hi, e_fliers, 1e-3),
    (f_q1, f_med, f_q3, f_lo, f_hi, f_fliers, 1.0),
    (g_q1, g_med, g_q3, g_lo, g_hi, g_fliers, 1.0),
    (h_q1, h_med, h_q3, h_lo, h_hi, h_fliers, 1.0),
]

# layout (pixel boxes in the 1393x544 figure) and axis settings
W, H = 1393, 544
boxes_px = [(63, 25, 334, 205), (387, 24, 683, 206), (761, 25, 1025, 207), (1076, 24, 1374, 206),
            (64, 298, 336, 479), (387, 297, 682, 479), (752, 298, 1026, 479), (1076, 297, 1374, 479)]
caption_px = [(173, 257), (517, 257), (887, 257), (1207, 257),
              (182, 532), (522, 532), (862, 532), (1207, 532)]
ylims = [(0.0098, 0.0638), (-0.31, 6.24), (-0.00029, 0.00583), (-0.45, 8.9),
         (-0.0039, 0.0916), (-0.36, 8.33), (-0.061, 1.045), (-0.40, 9.24)]
yticks = [[0.02, 0.04, 0.06], [0, 2, 4, 6], [0.0, 0.002, 0.004], [0, 2, 4, 6, 8],
          [0.0, 0.02, 0.04, 0.06, 0.08], [0, 2, 4, 6, 8], [0.0, 0.25, 0.5, 0.75, 1.0],
          [0, 2, 4, 6, 8]]
yfmt = ["%.2f", "%d", "%.3f", "%d", "%.2f", "%d", "%.2f", "%d"]
legend_locs = [None, "upper right", "upper left", "upper right", "upper left", "upper right",
               "upper left", "upper right"]

fig = plt.figure(figsize=(W / 100, H / 100), dpi=100)

for k in range(8):
    x0, y0, x1, y1 = boxes_px[k]
    ax = fig.add_axes([x0 / W, 1 - y1 / H, (x1 - x0) / W, (y1 - y0) / H])
    q1, med, q3, lo, hi, fliers, scale = series[k]

    tasks = np.arange(1, len(med) + 1)
    frame = pd.DataFrame({
        "tasks": np.repeat(tasks, 5),
        "time": np.column_stack([lo, q1, med, q3, hi]).ravel() * scale,
    })
    sns.boxplot(data=frame, x="tasks", y="time", native_scale=True, whis=(0, 100),
                fill=False, color="black", width=0.8, linewidth=0.8, showfliers=False,
                medianprops={"color": "#ff7f0e", "linewidth": 1.0}, ax=ax)

    # outlier circles
    fx = [t for t, vals in zip(tasks, fliers) for _ in vals]
    fy = [v * scale for vals in fliers for v in vals]
    sns.scatterplot(x=fx, y=fy, ax=ax, marker="o", s=19, color="black",
                    edgecolor="black", linewidth=0.8, zorder=3, legend=False)
    ax.collections[-1].set_facecolor("none")

    if k == 0:
        ax.set_xlim(0.43, 48.9)
        ax.set_xticks(range(4, 50, 5))
    else:
        ax.set_xlim(0, 50.5)
        ax.set_xticks(range(0, 51, 5))
    ax.set_ylim(*ylims[k])
    ax.set_yticks(yticks[k])
    ax.yaxis.set_major_formatter(FormatStrFormatter(yfmt[k]))

    ax.grid(True, color="#c8c8c8", linewidth=0.8)
    ax.set_axisbelow(True)
    for sp in ax.spines.values():
        sp.set_color("#999999")
        sp.set_linewidth(0.8)
    ax.tick_params(labelsize=11.5, color="#999999", length=3.5, width=0.8)

    ax.set_title(titles[k], fontsize=13, pad=4)
    ax.set_xlabel("Number of available tasks", fontsize=11.5, labelpad=2)
    ax.set_ylabel("Time [s]", fontsize=11.5, labelpad=3)

    cx, cy = caption_px[k]
    fig.text(cx / W, 1 - cy / H, "(" + letters[k] + ")", ha="center", va="center",
             fontsize=13, fontfamily="cmb10")

    if legend_labels[k]:
        handle = Line2D([], [], color="black", linewidth=1.2)
        ax.legend(handles=[handle], labels=[legend_labels[k]], loc=legend_locs[k],
                  fontsize=10.5, handlelength=2.2)

fig.savefig("out.png", dpi=100)
